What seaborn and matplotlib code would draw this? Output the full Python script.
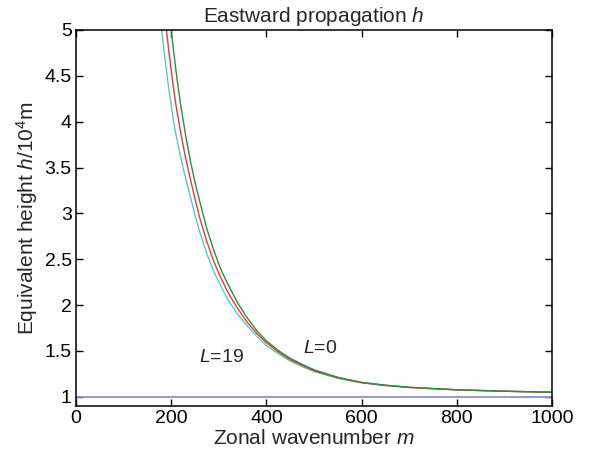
import numpy as np
import pandas as pd
import matplotlib
matplotlib.use("Agg")
import matplotlib.pyplot as plt
import seaborn as sns

# Zonal wavenumber m
m_values = [180, 185, 190, 195, 200, 205, 210, 215, 220,
            230, 240, 250, 260, 275, 290, 305, 320,
            340, 360, 380, 400, 425, 450, 475, 500,
            550, 600, 650, 700, 800, 900, 1000]
# Equivalent height h (10^4 m)
h_L0 = [6.15, 5.82, 5.52, 5.25, 5.00, 4.77, 4.56, 4.36, 4.18,
        3.86, 3.58, 3.34, 3.13, 2.83, 2.59, 2.38, 2.22,
        2.02, 1.86, 1.72, 1.61, 1.505, 1.42, 1.355, 1.295,
        1.213, 1.158, 1.127, 1.104, 1.077, 1.061, 1.050]
h_Lmid = [5.52, 5.25, 5.00, 4.77, 4.56, 4.36, 4.18, 4.03, 3.88,
          3.61, 3.38, 3.16, 2.95, 2.69, 2.47, 2.29, 2.13,
          1.96, 1.81, 1.69, 1.59, 1.49, 1.405, 1.343, 1.285,
          1.207, 1.155, 1.125, 1.103, 1.076, 1.061, 1.050]
h_L19 = [5.00, 4.77, 4.56, 4.36, 4.18, 4.00, 3.86, 3.73, 3.61,
         3.39, 3.19, 2.98, 2.80, 2.56, 2.36, 2.20, 2.05,
         1.90, 1.77, 1.66, 1.56, 1.47, 1.39, 1.33, 1.276,
         1.201, 1.152, 1.123, 1.102, 1.076, 1.061, 1.050]
series_names = ["L=19", "L=mid", "L=0"]
series_colors = ["#5cc6c8", "#e8383a", "#2e8b45"]

ref_m = [0, 1000]
ref_h = [1.0, 1.0]

x_ticks = [0, 200, 400, 600, 800, 1000]
y_ticks = [1, 1.5, 2, 2.5, 3, 3.5, 4, 4.5, 5]
y_tick_labels = ["1", "1.5", "2", "2.5", "3", "3.5", "4", "4.5", "5"]

sns.set_theme(style="white")
plt.rcParams["font.family"] = ["Liberation Sans", "DejaVu Sans"]
plt.rcParams["mathtext.fontset"] = "custom"
plt.rcParams["mathtext.it"] = "Liberation Sans:italic"
plt.rcParams["mathtext.rm"] = "Liberation Sans"

df = pd.DataFrame({
    "m": m_values * 3,
    "h": h_L19 + h_Lmid + h_L0,
    "L": [series_names[0]] * len(m_values) + [series_names[1]] * len(m_values)
         + [series_names[2]] * len(m_values),
})
ref_df = pd.DataFrame({"m": ref_m, "h": ref_h})

fig = plt.figure(figsize=(5.89, 4.54), dpi=100)
ax = fig.add_axes([76 / 589, 48 / 454, (552 - 76) / 589, (406 - 30) / 454])

sns.lineplot(data=ref_df, x="m", y="h", ax=ax, color="#8a90cc", lw=1.3)
sns.lineplot(data=df, x="m", y="h", hue="L", hue_order=series_names,
             palette=series_colors, ax=ax, lw=1.0, legend=False, sort=False)

ax.set_xlim(0, 1000)
ax.set_ylim(0.9, 5)
ax.set_xticks(x_ticks)
ax.set_yticks(y_ticks)
ax.set_yticklabels(y_tick_labels)
ax.tick_params(direction="in", length=5, width=1, top=True, right=True,
               bottom=True, left=True, labelsize=14, colors="black", pad=3)
for sp in ax.spines.values():
    sp.set_color("black")
    sp.set_linewidth(1.1)

ax.set_xlabel("Zonal wavenumber $m$", fontsize=15, labelpad=1)
ax.set_ylabel("Equivalent height $h$/10$^4$m", fontsize=15, labelpad=3)
ax.set_title("Eastward propagation $h$", fontsize=15, pad=6)

ax.text(259, 1.43, "$L$=19", fontsize=14, va="center", ha="left")
ax.text(476, 1.53, "$L$=0", fontsize=14, va="center", ha="left")

fig.savefig("out.png", dpi=100, facecolor="white")
